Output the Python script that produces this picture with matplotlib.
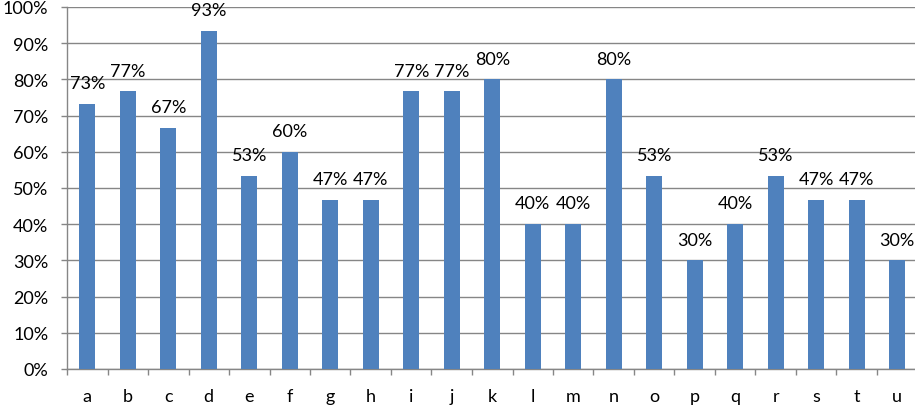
import matplotlib
matplotlib.use("Agg")
import matplotlib.pyplot as plt
from matplotlib.ticker import PercentFormatter, FixedLocator

categories = list("abcdefghijklmnopqrstu")
values = [0.733, 0.767, 0.667, 0.933, 0.533, 0.600, 0.467, 0.467, 0.767, 0.767,
          0.800, 0.400, 0.400, 0.800, 0.533, 0.300, 0.400, 0.533, 0.467, 0.467, 0.300]
yticks = [i / 10 for i in range(11)]

plt.rcParams['font.family'] = ['Lato', 'DejaVu Sans']
W, H = 915, 410
fig = plt.figure(figsize=(W / 100, H / 100), dpi=100)
ax = fig.add_axes([67 / W, 40 / H, (917.5 - 67) / W, 362 / H])

grey = '#868686'
x = list(range(len(categories)))
ax.bar(x, values, width=0.4, color='#4F81BD', zorder=3)

for xi, v in zip(x, values):
    ax.annotate(f"{round(v * 100)}%", (xi, v), xytext=(0, 15), textcoords='offset points',
                ha='center', va='center', fontsize=13, color='black')

ax.set_xlim(-0.5, len(categories) - 0.5)
ax.set_ylim(0, 1)
ax.set_yticks(yticks)
ax.yaxis.set_major_formatter(PercentFormatter(1.0, decimals=0))
ax.grid(axis='y', color=grey, linewidth=1, zorder=0)

ax.xaxis.set_major_locator(FixedLocator([i - 0.5 for i in range(len(categories) + 1)]))
ax.xaxis.set_major_formatter(plt.NullFormatter())
ax.xaxis.set_minor_locator(FixedLocator(x))
ax.set_xticklabels(categories, minor=True)
ax.tick_params(axis='x', which='major', length=4.5, width=1, color=grey, direction='out')
ax.tick_params(axis='x', which='minor', length=0, pad=14, labelsize=13)
ax.tick_params(axis='y', length=4.5, width=1, color=grey, direction='out', pad=9, labelsize=13)

for s in ['top', 'right']:
    ax.spines[s].set_visible(False)
for s in ['left', 'bottom']:
    ax.spines[s].set_color(grey)
    ax.spines[s].set_linewidth(1)

fig.savefig('out.png', dpi=100, facecolor='white')
